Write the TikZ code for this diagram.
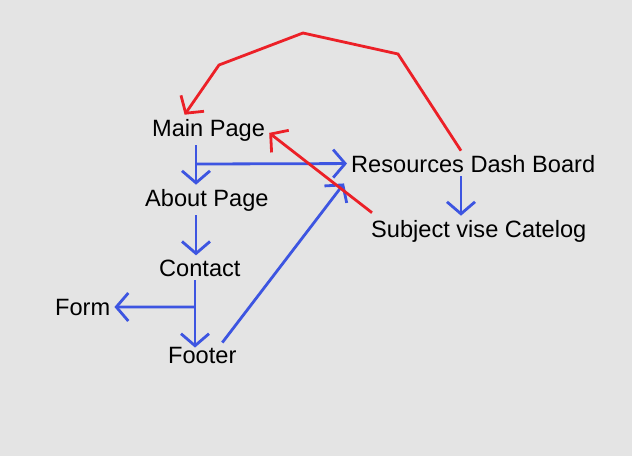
\documentclass[tikz,border=0pt]{standalone}
\usepackage{fontspec}
\setmainfont{Liberation Sans}
\usetikzlibrary{arrows.meta}

\definecolor{bgcol}{HTML}{E4E4E4}
\definecolor{linkblue}{HTML}{3D55E1}
\definecolor{backred}{HTML}{EC2027}

\tikzset{
    page/.style={inner sep=4pt, anchor=base west, font=\fontsize{23.6}{28}\selectfont},
    link/.style={draw=linkblue, line width=2.8pt, -{Straight Barb[length=12pt,width=28pt,line width=2.8pt]}},
    backlink/.style={link, draw=backred},
}

\begin{document}
\begin{tikzpicture}[x=1pt,y=-1pt]
    \fill [bgcol] (0,0) rectangle (632,456);
    \useasboundingbox (0,0) rectangle (632,456);

    \begin{scope}
    \node [page] (main)    at (148,136) {Main Page};
    \node [page] (about)   at (141,206) {About Page};
    \node [page] (contact) at (155,276) {Contact};
    \node [page] (form)    at (51,315)  {Form};
    \node [page] (footer)  at (164,363) {Footer};
    \node [page] (dash)    at (347,172) {Resources Dash Board};
    \node [page] (subject) at (367,237) {Subject vise Catelog};

    \coordinate (trunk) at (196,164);
    \coordinate (split) at (195,307);
    \coordinate (drop)  at (461,0);
    \coordinate (bend1) at (398,54);
    \coordinate (bend2) at (303,33);
    \coordinate (bend3) at (219,65);

    % blue links
    \draw [link] (trunk |- main.south) -- (trunk |- about.north);
    \draw [link] (trunk) -- (dash.west);
    \draw [link] (trunk |- about.south) -- (trunk |- contact.north);
    \draw [link, shorten >=-5pt] (split |- contact.south) -- (split |- footer.north);
    \draw [link] (split) -- (form.east);
    \draw [link] ([xshift=20pt]footer.north) -- ([xshift=-3pt,yshift=-7pt]dash.south west);
    \draw [link] (drop |- dash.south) -- (drop |- subject.north);

    % red links back
    \draw [backlink] ([xshift=5pt,yshift=3pt]subject.north west) -- ([yshift=-3pt]main.east);
    \draw [backlink] (drop |- dash.north) -- (bend1) -- (bend2) -- (bend3) -- ([xshift=-24pt]main.north);
    \end{scope}
\end{tikzpicture}
\end{document}
